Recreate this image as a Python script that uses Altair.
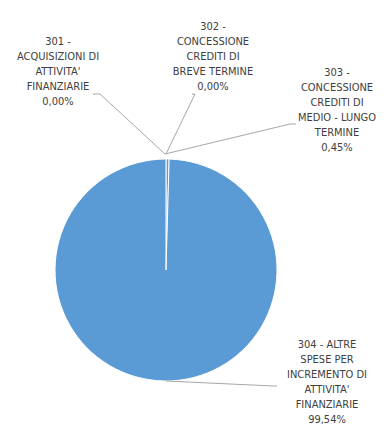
import altair as alt
import pandas as pd

# --- data ---
codes = ["301", "302", "303", "304"]
names = [
    ["301 -", "ACQUISIZIONI DI", "ATTIVITA'", "FINANZIARIE"],
    ["302 -", "CONCESSIONE", "CREDITI DI", "BREVE TERMINE"],
    ["303 -", "CONCESSIONE", "CREDITI DI", "MEDIO - LUNGO", "TERMINE"],
    ["304 - ALTRE", "SPESE PER", "INCREMENTO DI", "ATTIVITA'", "FINANZIARIE"],
]
shares = [0.00, 0.00, 0.45, 99.54]
pct_labels = ["0,00%", "0,00%", "0,45%", "99,54%"]

# --- layout (label anchors and leader lines, pixel positions) ---
label_x = [50, 205, 329, 319]
label_y = [28, 13, 59, 331]
lead_x = [85, 92, 184, 187, 157, 282, 158, 265]
lead_y = [86, 86, 86, 86, 146, 116, 373, 378]
lead_x2 = [92, 157, 187, 158, 282, 288, 265, 269]
lead_y2 = [86, 146, 86, 146, 116, 116, 378, 378]

CX, CY, R = 158, 262, 111
FONT = "Liberation Sans Narrow, DejaVu Sans Condensed, sans-serif"

pie_df = pd.DataFrame({"code": codes, "share": shares, "ord": list(range(len(codes)))})
lab_df = pd.DataFrame({
    "text": [n + [p] for n, p in zip(names, pct_labels)],
    "x": label_x,
    "y": label_y,
})
lead_df = pd.DataFrame({"x": lead_x, "y": lead_y, "x2": lead_x2, "y2": lead_y2})

pie = alt.Chart(pie_df).mark_arc(
    outerRadius=R, color="#5B9BD5", stroke="#ffffff", strokeWidth=1
).encode(
    theta=alt.Theta("share:Q", stack=True),
    order=alt.Order("ord:Q"),
    x=alt.value(CX),
    y=alt.value(CY),
)

leaders = alt.Chart(lead_df).mark_rule(color="#a6a6a6", strokeWidth=1).encode(
    x=alt.X("x:Q", scale=None),
    y=alt.Y("y:Q", scale=None),
    x2="x2:Q",
    y2="y2:Q",
)

labels = alt.Chart(lab_df).mark_text(
    align="center", baseline="top", font=FONT, fontSize=11,
    lineHeight=15, color="#404040"
).encode(
    x=alt.X("x:Q", scale=None),
    y=alt.Y("y:Q", scale=None),
    text="text",
)

chart = alt.layer(pie, leaders, labels).properties(
    width=371, height=421, padding=0, autosize="none"
).configure_view(stroke=None)

chart.save("out.html", embed_options={"renderer": "svg", "actions": False})
